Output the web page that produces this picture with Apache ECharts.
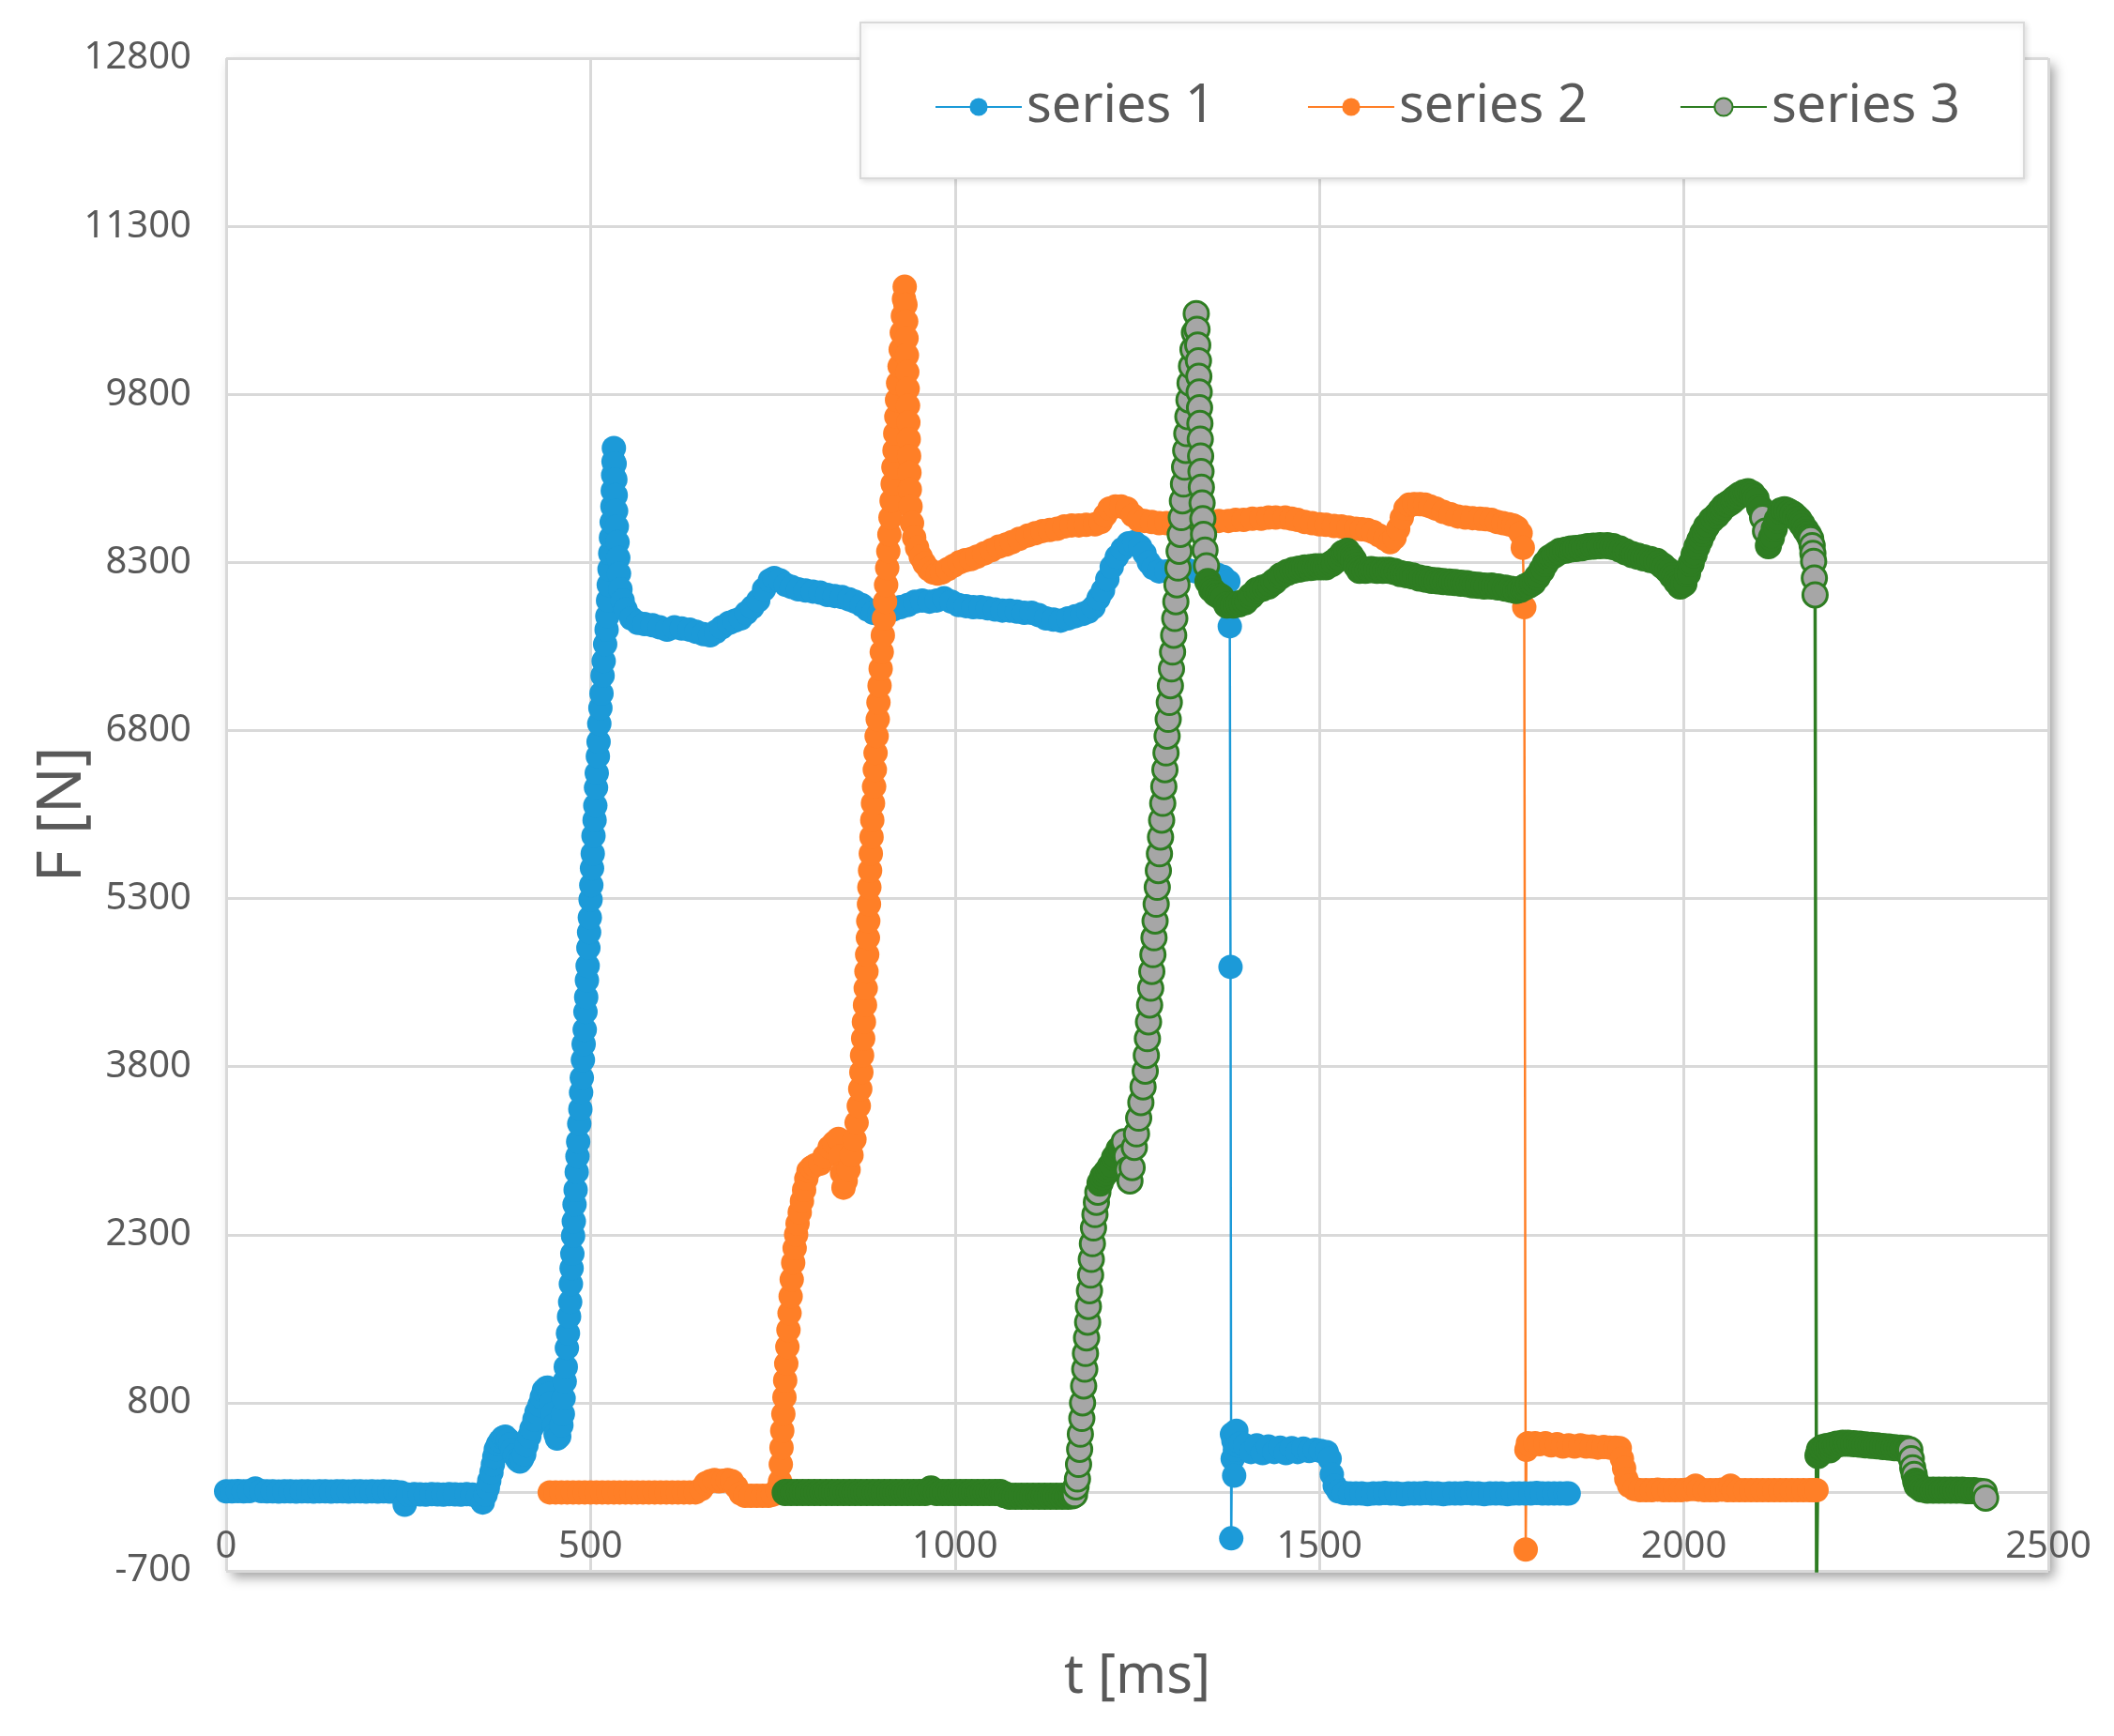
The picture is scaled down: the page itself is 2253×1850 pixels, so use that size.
<!DOCTYPE html>
<html>
<head>
<meta charset="utf-8">
<title>F over t</title>
<script src="https://cdn.jsdelivr.net/npm/echarts/dist/echarts.min.js"></script>
<style>
  html, body { margin: 0; padding: 0; background: #fff; }
  #myChart { width: 2253px; height: 1850px; }
</style>
</head>
<body>
<div id="myChart"></div>
<script>
// [t ms, F N]
const series1 = [
  [0,10],[8,10],[16,12],[24,10],[32,12],[40,35],[48,12],[56,10],[64,10],[72,8],[80,10],[88,10],[96,8],[104,10],[112,10],[120,8],
  [128,10],[136,10],[144,8],[152,10],[160,10],[168,8],[176,10],[184,10],[192,8],[200,10],[208,8],[216,10],[224,8],[232,5],[240,0],
  [245,-110],[250,-20],[258,-15],[266,-18],[274,-20],[282,-15],[290,-18],[298,-20],[306,-15],[314,-18],[322,-20],[330,-15],[338,-20],
  [346,-35],[352,-90],[356,-20],[359,40],[361,105],[364,180],[366,250],[368,320],[370,386],[373,430],[376,460],[380,490],[383,497],
  [387,470],[390,430],[393,380],[396,330],[400,290],[403,276],[406,300],[409,340],[412,420],[416,500],[419,570],[423,650],[426,720],
  [430,780],[433,850],[436,910],[439,930],[441,936],[444,880],[446,800],[448,700],[450,600],[452,520],[454,480],[457,500],[460,600],
  [462,700],[463,840],[464.5,990],[466,1120],[467.5,1290],[469,1420],[470.5,1570],[472,1700],[473,1860],[474,2000],[475,2130],
  [476,2290],[477,2420],[478,2570],[479.5,2700],[481,2860],[482,3000],[483,3130],[484.5,3290],[486,3420],[487,3570],[488,3700],
  [489.5,3860],[490.5,4000],[492,4130],[493,4290],[494,4420],[495,4570],[496,4700],[497,4860],[498,5000],[499,5130],[500,5290],
  [501,5420],[502,5570],[503,5700],[504,5860],[505.5,6000],[506.5,6130],[507.5,6290],[508.5,6420],[510,6570],[511,6700],[512,6860],
  [513.5,7000],[515,7130],[516.5,7290],[518,7420],[520,7570],[522,7700],
  [523,7820],[524,7960],[525,8100],[526,8240],[527,8380],[528,8520],[529,8660],[530,8800],[530.5,8940],[531,9080],[531.5,9200],
  [532,9320],[533,9180],[534,9040],[534.5,8900],[535,8760],[536,8620],[537,8480],[538,8340],[539,8200],[541,8060],[544,7960],[548,7880],
  [556,7800],[565,7760],[574,7750],[585,7740],[595,7720],[605,7700],[615,7720],[625,7710],[636,7700],[645,7680],[655,7660],[664,7650],
  [672,7680],[680,7720],[690,7760],[698,7780],[706,7800],[714,7850],[722,7900],[730,7960],[738,8060],[746,8140],[752,8160],[760,8140],
  [768,8100],[776,8080],[785,8060],[795,8050],[805,8040],[815,8030],[825,8010],[835,8000],[845,7990],[855,7970],[863,7950],[872,7920],
  [880,7880],[888,7850],[896,7840],[905,7860],[915,7880],[925,7900],[935,7920],[945,7950],[955,7960],[965,7950],[975,7960],[985,7980],
  [995,7950],[1005,7920],[1015,7910],[1025,7900],[1035,7900],[1045,7890],[1055,7880],[1065,7870],[1075,7870],[1085,7860],[1095,7850],
  [1105,7850],[1115,7830],[1125,7800],[1135,7790],[1145,7780],[1155,7800],[1165,7820],[1175,7840],[1183,7860],[1190,7900],[1197,7980],
  [1203,8050],[1209,8150],[1215,8260],[1222,8350],[1230,8420],[1238,8470],[1246,8480],[1254,8440],[1260,8380],[1266,8300],[1272,8250],
  [1280,8220],[1290,8220],[1300,8230],[1310,8230],[1320,8230],[1330,8220],[1340,8210],[1350,8200],[1360,8190],[1368,8170],[1375,8130],
  [1377,7730],[1378,4690],[1379,-410],[1380,520],[1381,300],[1382,460],[1383,150],[1384,380],[1386,550],[1388,420],[1392,440],
  [1398,420],[1406,360],[1414,420],[1422,350],[1430,410],[1438,360],[1446,400],[1454,350],[1462,395],[1470,360],[1478,390],[1486,370],
  [1494,380],[1502,370],[1510,360],[1514,300],[1517,160],[1521,60],[1526,10],[1534,-5],[1542,-10],
  [1550,-10],[1558,-10],[1566,-15],[1574,-10],[1582,-10],[1590,-5],[1598,-10],[1606,-10],[1614,-15],[1622,-10],[1630,-10],[1638,-10],
  [1646,-5],[1654,-10],[1662,-10],[1670,-15],[1678,-10],[1686,-10],[1694,-10],[1702,-5],[1710,-10],[1718,-10],[1726,-15],[1734,-10],
  [1742,-10],[1750,-10],[1758,-15],[1766,-10],[1774,-10],[1782,-10],[1790,-10],[1798,-5],[1806,-10],[1814,-10],[1822,-10],[1830,-10],
  [1838,-10],[1842,-10]
];

const series2 = [
  [444,0],[452,0],[460,0],[468,0],[476,0],[484,0],[492,0],[500,0],[508,0],[516,0],[524,0],[532,0],[540,0],[548,0],[556,0],[564,0],
  [572,0],[580,0],[588,0],[596,0],[604,0],[612,0],[620,0],[628,0],[636,0],[644,0],[652,30],[658,80],[664,100],[670,110],[676,100],
  [682,105],[688,110],[694,100],[700,50],[706,-10],[712,-30],[720,-30],[728,-30],[736,-30],[744,-30],[750,-20],[756,20],
  [760,100],[761,250],[762,400],[763,550],[764.5,700],[766,850],[767,1000],[768.5,1150],[770,1300],[771.5,1450],[773,1600],
  [774.5,1750],[776,1900],[778,2050],[780,2180],[782,2300],[784,2400],[787,2500],[790,2600],[793,2700],[796,2800],[799,2870],
  [803,2900],[808,2920],[815,2935],[821,3000],[828,3080],[834,3120],[840,3155],[843,3000],[845,2850],[847,2720],[850,2780],
  [854,2880],[858,3010],[862,3150],[865,3300],[868,3450],[870,3600],
  [871.5,3750],[872.5,3900],[874,4050],[875,4200],[876.5,4350],[877.5,4500],[878.5,4650],[879.5,4800],[880.5,4950],[881,5100],
  [882,5250],[882.5,5400],[883.5,5550],[884.5,5700],[885.5,5850],[886.5,6000],[887.5,6150],[889,6300],[890,6450],[891,6600],
  [892.5,6750],[894,6900],[895,7050],[896.5,7200],[898,7350],[899.5,7500],[901,7650],[902.5,7800],[904,7950],[905.5,8100],
  [907,8250],[908.5,8400],[910,8550],[911.5,8700],[913,8850],[914.5,9000],[915.5,9150],[917,9300],[918,9450],[919.5,9600],
  [920.5,9750],[922,9900],[924,10050],[925.5,10200],[927,10350],[928.5,10500],[930,10650],[931,10760],
  [932,10600],[933,10450],[933.5,10300],[934,10150],[934.5,10000],[935,9850],[935.5,9700],[936,9550],[936.5,9400],[937,9250],
  [937.5,9100],[938,8950],[939,8800],[941,8650],[944,8520],[948,8430],[953,8350],[958,8290],[964,8240],[970,8210],[976,8200],
  [982,8210],[990,8240],[998,8270],[1006,8300],[1014,8320],[1022,8330],[1030,8350],[1040,8380],[1050,8410],[1060,8440],[1070,8460],
  [1078,8480],[1088,8510],[1100,8540],[1110,8560],[1120,8580],[1130,8590],[1140,8600],[1150,8620],[1160,8630],[1170,8630],
  [1180,8635],[1192,8640],[1200,8660],[1206,8720],[1212,8780],[1220,8800],[1228,8800],[1236,8780],[1244,8720],[1252,8680],
  [1260,8670],[1270,8660],[1280,8650],[1290,8650],[1300,8650],[1310,8650],[1320,8660],[1330,8660],[1340,8660],[1351,8660],
  [1362,8670],[1375,8670],[1385,8680],[1396,8680],[1408,8690],[1420,8690],[1430,8700],[1440,8700],[1453,8700],[1462,8690],
  [1470,8680],[1480,8660],[1490,8650],[1500,8640],[1509,8635],[1520,8625],[1530,8620],[1540,8610],[1550,8600],[1558,8595],
  [1566,8590],[1574,8570],[1582,8540],[1590,8510],[1597,8480],[1603,8520],[1608,8600],[1613,8700],[1618,8780],[1623,8815],
  [1630,8820],[1638,8820],[1645,8815],[1652,8800],[1660,8780],[1670,8750],[1680,8730],[1690,8710],[1700,8700],[1710,8695],
  [1720,8690],[1728,8685],[1736,8680],[1744,8660],[1752,8650],[1760,8640],[1766,8630],[1771,8610],[1776,8560],[1779,8430],
  [1781,7900],[1783,-510],[1784,380],[1786,440],[1790,420],[1796,440],[1802,430],[1810,440],[1818,420],[1826,430],[1834,410],
  [1842,420],[1850,410],[1858,420],[1866,410],[1874,410],[1882,400],[1890,405],[1898,400],[1906,400],[1912,395],[1915,300],
  [1918,215],[1921,120],[1925,60],[1932,30],[1940,20],[1948,20],[1956,20],[1964,25],[1972,20],[1980,20],[1988,20],[1996,20],
  [2004,25],[2012,30],[2016,60],[2020,25],[2028,20],[2036,20],[2044,20],[2052,25],[2060,20],[2064,60],[2068,20],[2076,20],
  [2084,20],[2092,20],[2100,20],[2108,20],[2116,20],[2124,20],[2132,20],[2140,20],[2148,20],[2156,20],[2164,20],[2172,20],
  [2178,20],[2182,20]
];

const series3 = [
  [767,0],[775,0],[783,0],[791,0],[799,0],[807,0],[815,0],[823,0],[831,0],[839,0],[847,0],[855,0],[863,0],[871,0],[879,0],[887,0],
  [895,0],[903,0],[911,0],[919,0],[927,0],[935,0],[943,0],[951,0],[959,0],[967,30],[975,0],[983,0],[991,0],[999,0],[1007,0],
  [1015,0],[1023,0],[1031,0],[1039,0],[1047,0],[1055,0],[1062,0],[1068,-20],[1075,-35],[1083,-35],[1091,-35],[1099,-35],
  [1107,-35],[1115,-35],[1123,-35],[1131,-35],[1139,-35],[1147,-35],[1155,-35],[1161,-30],
  [1164,-20],[1166,50],[1168,120],[1169.5,250],[1171,385],[1172,520],[1174,660],[1175,800],[1176.5,950],[1178,1100],[1179,1240],
  [1180.5,1380],[1182,1520],[1183,1660],[1184.5,1800],[1186,1940],[1187,2080],[1188.5,2220],[1190,2360],[1192,2480],[1194,2590],
  [1196,2680],[1199,2760],[1203,2820],[1208,2860],[1213,2910],[1219,2990],[1225,3060],[1232,3130],[1235,3000],[1237,2880],
  [1240,2780],[1243,2900],[1246,3080],[1249,3200],[1252,3340],[1255,3480],[1258,3620],[1261,3760],
  [1262.5,3900],[1264,4050],[1265.5,4200],[1267,4350],[1268.5,4500],[1270,4650],[1271.5,4800],[1273,4950],[1274.5,5100],
  [1276,5250],[1277.5,5400],[1279,5550],[1280.5,5700],[1282,5850],[1283.5,6000],[1285,6150],[1286.5,6300],[1288,6450],
  [1289.5,6600],[1291,6750],[1292.5,6900],[1294,7050],[1295.5,7200],[1297,7350],[1298.5,7500],[1300,7650],[1301.5,7800],
  [1303,7950],[1304.5,8100],[1306,8250],[1307.5,8400],[1309,8550],[1310.5,8700],[1312,8850],[1313.5,9000],[1315,9150],
  [1316.5,9300],[1318,9450],[1319.5,9600],[1321,9750],[1322.5,9900],[1324.5,10050],[1326.5,10200],[1328.5,10350],[1331,10520],
  [1332,10380],[1333,10240],[1334,10100],[1334.5,9960],[1335,9820],[1335.5,9680],[1336,9540],[1336.5,9400],[1337,9250],
  [1337.5,9110],[1338,8970],[1339,8830],[1340,8690],[1341,8550],[1343,8410],[1345,8270],[1347,8130],[1352,8060],[1358,8020],
  [1365,7990],[1373,7920],[1382,7920],[1390,7930],[1398,7950],[1406,8000],[1414,8050],[1422,8070],[1430,8090],[1438,8130],
  [1447,8180],[1456,8210],[1464,8230],[1472,8240],[1480,8250],[1488,8255],[1495,8260],[1502,8260],[1509,8260],[1517,8290],
  [1525,8330],[1532,8380],[1538,8400],[1543,8360],[1547,8320],[1551,8270],[1555,8230],[1563,8230],[1571,8235],[1579,8230],
  [1587,8230],[1595,8230],[1603,8220],[1611,8200],[1620,8190],[1628,8180],[1637,8160],[1646,8150],[1654,8140],[1662,8135],
  [1670,8130],[1678,8125],[1686,8120],[1694,8115],[1702,8110],[1710,8100],[1718,8095],[1726,8090],[1736,8090],[1745,8080],
  [1755,8070],[1763,8060],[1770,8050],[1776,8060],[1782,8080],[1788,8100],[1793,8120],[1799,8170],[1805,8230],[1810,8290],
  [1816,8340],[1823,8370],[1830,8400],[1838,8410],[1845,8420],[1852,8425],[1860,8430],[1868,8440],[1876,8445],[1885,8450],
  [1895,8450],[1903,8440],[1912,8420],[1920,8395],[1929,8370],[1937,8355],[1945,8340],[1954,8325],[1963,8310],[1971,8270],
  [1978,8230],[1984,8180],[1990,8130],[1995,8090],[2000,8110],[2005,8200],[2010,8290],[2014,8370],[2018,8440],[2022,8500],
  [2026,8560],[2031,8620],[2038,8680],[2045,8720],[2050,8760],[2055,8800],[2060,8820],[2065,8840],[2070,8870],[2076,8900],
  [2082,8920],[2088,8930],[2094,8910],[2099,8870],[2104,8790],[2108,8700],[2112,8580],[2116,8450],[2120,8520],[2124,8600],
  [2128,8680],[2133,8760],[2138,8770],[2142,8760],[2146,8745],[2150,8730],[2154,8705],[2158,8680],[2162,8640],[2167,8590],
  [2171,8550],[2174,8510],[2176,8450],[2177,8380],[2178,8310],[2179,8160],[2180,8010],[2182,-900],
  [2184,330],[2186,380],[2190,400],[2196,410],[2200,380],[2204,420],[2210,430],[2218,440],[2225,440],[2233,435],[2241,430],
  [2249,425],[2257,420],[2265,415],[2273,410],[2281,405],[2289,400],[2297,395],[2305,390],[2310,380],[2312,300],[2314,220],
  [2316,160],[2318,100],[2320,60],[2326,30],[2334,20],[2342,20],[2350,20],[2358,20],[2366,20],[2374,20],[2382,20],[2390,15],
  [2398,15],[2406,10],[2412,5],[2414,-50]
];

const seriesNames = ['series 1', 'series 2', 'series 3'];
const yMin = -700, yMax = 12800, yStep = 1500;
const xMin = 0, xMax = 2500, xStep = 500;

const BLUE = '#1c9ad8';
const ORANGE = '#ff7f27';
const GREEN = '#2e7d22';
const GREY = '#a6a6a6';
const TEXT = '#595959';
const GRID = '#d9d9d9';
const FONT = 'Noto Sans, Open Sans, sans-serif';

const CHART_H = 1850;
const GRID_TOP = 62;
const GRID_BOTTOM = 176;
const MARKER = 26;

// where the samples pile up densely only the green rims show,
// on steep parts the grey fill of each marker stays visible
function series3Items(points) {
  return points.map((p, i) => {
    const next = points[i + 1];
    let steep = true;
    if (next) {
      const slope = Math.abs((next[1] - p[1]) / (next[0] - p[0]));
      steep = slope > 25;
    }
    return { value: p, itemStyle: { color: steep ? GREY : GREEN } };
  });
}

const setOption = () => {
  // x axis sits on F = 0, like the excel horizontal axis
  const plotH = CHART_H - GRID_TOP - GRID_BOTTOM;
  const zeroShift = (0 - yMin) / (yMax - yMin) * plotH;
  return {
    animation: false,
    backgroundColor: '#fff',
    textStyle: { fontFamily: FONT },
    grid: {
      show: true,
      left: 241,
      top: GRID_TOP,
      right: 70,
      bottom: GRID_BOTTOM,
      containLabel: false,
      outerBoundsMode: 'none',
      backgroundColor: '#fff',
      borderWidth: 0,
      shadowColor: 'rgba(0,0,0,0.38)',
      shadowBlur: 12,
      shadowOffsetX: 6,
      shadowOffsetY: 7,
    },
    legend: {
      data: seriesNames,
      left: 917,
      top: 24,
      orient: 'horizontal',
      itemWidth: 92,
      itemHeight: 24,
      itemGap: 98,
      padding: [62, 68, 48, 79],
      backgroundColor: '#fff',
      borderColor: GRID,
      borderWidth: 2,
      shadowColor: 'rgba(0,0,0,0.12)',
      shadowBlur: 6,
      shadowOffsetX: 2,
      shadowOffsetY: 2,
      textStyle: { fontSize: 56, color: TEXT, fontFamily: FONT },
    },
    xAxis: {
      type: 'value',
      min: xMin,
      max: xMax,
      interval: xStep,
      offset: -zeroShift,
      name: 't [ms]',
      nameLocation: 'middle',
      nameGap: 168,
      nameTextStyle: { fontSize: 58, color: TEXT, fontFamily: FONT },
      axisLine: { show: true, onZero: false, lineStyle: { color: GRID, width: 3 } },
      axisTick: { show: false },
      axisLabel: {
        fontSize: 40,
        color: TEXT,
        margin: 38,
        fontFamily: FONT,
        formatter: (v) => String(v),
      },
      splitLine: { show: true, lineStyle: { color: GRID, width: 3 } },
    },
    yAxis: {
      type: 'value',
      min: yMin,
      max: yMax,
      interval: yStep,
      name: 'F [N]',
      nameLocation: 'middle',
      nameGap: 141,
      nameMoveOverlap: false,
      nameTextStyle: { fontSize: 66, color: TEXT, fontFamily: FONT },
      axisLine: { show: false },
      axisTick: { show: false },
      axisLabel: {
        fontSize: 40,
        color: TEXT,
        margin: 37,
        fontFamily: FONT,
        formatter: (v) => String(v),
      },
      splitLine: { show: true, lineStyle: { color: GRID, width: 3 } },
    },
    series: [
      {
        name: seriesNames[0],
        type: 'line',
        data: series1,
        symbol: 'circle',
        symbolSize: MARKER,
        showSymbol: true,
        lineStyle: { color: BLUE, width: 2.5 },
        itemStyle: { color: BLUE },
      },
      {
        name: seriesNames[1],
        type: 'line',
        data: series2,
        symbol: 'circle',
        symbolSize: MARKER,
        showSymbol: true,
        lineStyle: { color: ORANGE, width: 2.5 },
        itemStyle: { color: ORANGE },
      },
      {
        name: seriesNames[2],
        type: 'line',
        data: series3Items(series3),
        symbol: 'circle',
        symbolSize: MARKER,
        showSymbol: true,
        lineStyle: { color: GREEN, width: 3.5 },
        itemStyle: { color: GREY, borderColor: GREEN, borderWidth: 3 },
      },
    ],
  };
};

const myChart = echarts.init(document.getElementById('myChart'));
myChart.setOption(setOption());
</script>
</body>
</html>
